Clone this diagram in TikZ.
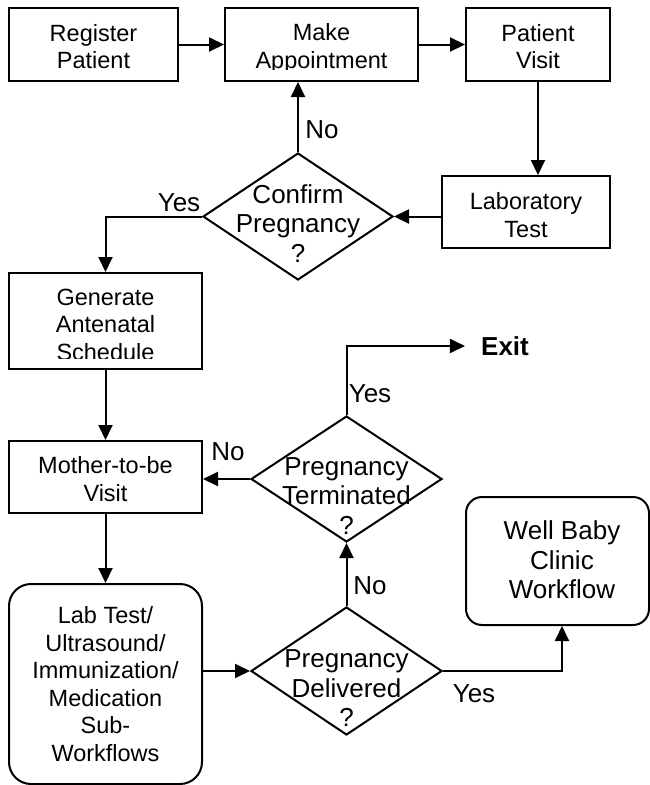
\documentclass[tikz,border=0pt]{standalone}
\usepackage{fontspec}
\setmainfont{Liberation Sans}
\usetikzlibrary{shapes.geometric,arrows.meta}
\newcommand\flowboxfont{\fontsize{23.5pt}{27.5pt}\selectfont}
\newcommand\flowbigfont{\fontsize{26pt}{29.5pt}\selectfont}
\begin{document}
\begin{tikzpicture}[x=1pt,y=-1pt,
  stepbox/.style={draw, line width=2pt, rectangle, inner sep=0pt, align=center, font=\flowboxfont},
  roundbox/.style={stepbox, rounded corners=#1},
  decision/.style={draw, diamond, line width=2pt, inner sep=0pt,
                   minimum width=191pt, minimum height=127pt},
  boxtext/.style={inner sep=0pt, align=center, font=\flowboxfont},
  bigtext/.style={inner sep=0pt, align=center, font=\flowbigfont},
  arr/.style={line width=2pt, -{Triangle[length=15pt,width=14pt]}}
]
\useasboundingbox (0,0) rectangle (650,785);

% top row of process steps
\node[stepbox, minimum width=169pt, minimum height=73pt] (reg) at (93.5,44.5) {};
\node[boxtext] (regtext) at (93.5,46.5) {Register\\Patient};
\node[stepbox, minimum width=193pt, minimum height=73pt] (make) at (321.5,44.5) {};
\begin{scope}
  \clip (225,8) rectangle (418,69);
  \node[boxtext] (maketext) at (321.5,48.2) {Make\\Appointment};
\end{scope}
\node[stepbox, minimum width=144pt, minimum height=73pt] (pv) at (538,44.5) {};
\node[boxtext] (pvtext) at (538,46.5) {Patient\\Visit};
\node[stepbox, minimum width=168pt, minimum height=72pt] (lab) at (526,212) {};
\node[boxtext] (labtext) at (526,215) {Laboratory\\Test};

% confirmation decision
\node[decision, minimum width=190pt] (confirm) at (298,216.5) {};
\node[bigtext] (confirmtext) at (298,223.5) {Confirm\\Pregnancy\\?};

% antenatal branch
\node[stepbox, minimum width=193pt, minimum height=96pt] (gen) at (105.5,321) {};
\begin{scope}
  \clip (9,273) rectangle (202,358);
  \node[boxtext] (gentext) at (105.5,324.5) {Generate\\Antenatal\\Schedule};
\end{scope}
\node[stepbox, minimum width=193pt, minimum height=72pt] (mother) at (105.5,477) {};
\node[boxtext] (mothertext) at (105.5,479) {Mother-to-be\\Visit};
\node[roundbox=22pt, minimum width=193pt, minimum height=200pt] (labwf) at (105.5,684)
  {Lab Test/\\Ultrasound/\\Immunization/\\Medication\\Sub-\\Workflows};

% termination and delivery decisions
\node[decision, minimum height=126pt] (pt) at (346.5,479) {};
\node[bigtext] (pttext) at (346.5,496) {Pregnancy\\Terminated\\?};
\node[decision, minimum height=128pt] (pd) at (346.5,671) {};
\node[bigtext] (pdtext) at (346.5,688.5) {Pregnancy\\Delivered\\?};

% end points
\node[bigtext, font=\flowbigfont\bfseries] (exit) at (505,346) {Exit};
\node[draw, line width=2pt, rounded corners=16pt, inner sep=0pt,
      minimum width=183pt, minimum height=128pt] (wb) at (557.5,561) {};
\node[bigtext] (wbtext) at (562,560) {Well Baby\\Clinic\\Workflow};

% connectors
\draw[arr] (reg) -- (make);
\draw[arr] (make) -- (pv);
\draw[arr] (pv.south) -- (pv.south |- lab.north);
\draw[arr] (lab.west |- confirm.east) -- (confirm.east);
\draw[arr] (confirm.north) -- (confirm.north |- make.south);
\draw[arr] (confirm.west) -| (gen.north);
\draw[arr] (gen) -- (mother);
\draw[arr] (mother) -- (labwf);
\draw[arr] (labwf.east |- pd.west) -- (pd.west);
\draw[arr] (pd.north) -- (pt.south);
\draw[arr] (pt.west) -- (pt.west -| mother.east);
\draw[arr, shorten >=16pt] (pt.north) |- (exit.west);
\draw[arr] (pd.east) -| (wbtext |- wb.south);

% branch labels
\node[bigtext] (noconfirm) at (322,130) {No};
\node[bigtext] (yesconfirm) at (179,203) {Yes};
\node[bigtext] (noterm) at (228,452) {No};
\node[bigtext] (yesterm) at (370,394) {Yes};
\node[bigtext] (nodeliv) at (370,586) {No};
\node[bigtext] (yesdeliv) at (474,694) {Yes};
\end{tikzpicture}
\end{document}
